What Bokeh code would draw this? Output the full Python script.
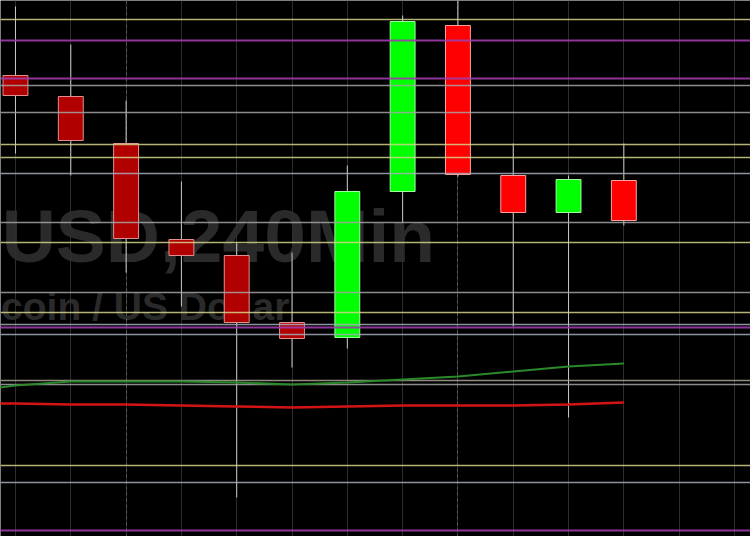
from bokeh.plotting import figure
from bokeh.models import Range1d
from bokeh.core.properties import value
from bokeh.embed import file_html
from bokeh.resources import INLINE

# ---- data (4h candles, price in USD) ----
idx = list(range(12))
opens = [10350, 10308, 10214, 10022, 9990, 9856, 9826, 10118, 10450, 10150, 10076, 10140]
closes = [10310, 10220, 10024, 9990, 9856, 9824, 10118, 10458, 10152, 10076, 10142, 10060]
highs = [10488, 10412, 10300, 10138, 10016, 9996, 10170, 10470, 10520, 10214, 10150, 10214]
lows = [10194, 10150, 9956, 9888, 9506, 9766, 9804, 10056, 10148, 9848, 9666, 10050]

ma_idx = list(range(-1, 12))
ma_green = [9716, 9730, 9738, 9738, 9738, 9736, 9732, 9736, 9742, 9748, 9758, 9768, 9774]
ma_red = [9694, 9694, 9692, 9692, 9690, 9688, 9686, 9688, 9690, 9690, 9690, 9692, 9696]

yellow_levels = [10462, 10212, 10186, 10016, 9876, 9570]
purple_levels = [10420, 10344, 9846, 9440]
grey_levels = [10330, 10276, 10056, 9916, 9732]
blue_levels = [10154, 9852, 9832, 9536]
beige_levels = [9740]

grid_x = list(range(0, 14))
session_x = [2, 8]

title_main = "USD,240Min"
title_sub = "coin / US Dollar"

# ---- figure ----
p = figure(width=750, height=536, output_backend="svg", toolbar_location=None,
           x_range=Range1d(-0.271, 13.29), y_range=Range1d(9428, 10500),
           background_fill_color="black", border_fill_color="black",
           min_border=0, outline_line_color=None)
p.axis.visible = False
p.grid.visible = False

# watermark
p.text(x=[-0.25], y=[10030], text=[title_main], text_align="left", text_baseline="middle",
       text_font=value("Liberation Sans"), text_font_style="bold", text_font_size="75px",
       text_color="#2a2a2a")
p.text(x=[-0.26], y=[9888], text=[title_sub], text_align="left", text_baseline="middle",
       text_font=value("Liberation Sans"), text_font_style="bold", text_font_size="39px",
       text_color="#2a2a2a")

# vertical grid
p.vspan(x=grid_x, line_color="#2e2e2e", line_width=1)
p.vspan(x=session_x, line_color="#5a5a5a", line_width=1, line_dash="3 3")

# wicks
p.segment(x0=idx, x1=idx, y0=lows, y1=highs, line_color="#c8c8c8", line_width=1)

# bodies
fills, outlines = [], []
for i, (o, c) in enumerate(zip(opens, closes)):
    if c >= o:
        fills.append("#00ff00"); outlines.append("#a0ffa0")
    elif i < 6:
        fills.append("#b00000"); outlines.append("#e09090")
    else:
        fills.append("#ff0000"); outlines.append("#ffa0a0")
tops = [max(o, c) for o, c in zip(opens, closes)]
bots = [min(o, c) for o, c in zip(opens, closes)]
p.vbar(x=idx, top=tops, bottom=bots, width=0.45, fill_color=fills, line_color=outlines, line_width=1)

# horizontal levels
p.hspan(y=yellow_levels, line_color="#d4d48c", line_width=1.5, line_alpha=0.85)
p.hspan(y=purple_levels, line_color="#a03cac", line_width=2, line_alpha=0.9)
p.hspan(y=grey_levels, line_color="#a4a4a4", line_width=1.5, line_alpha=0.85)
p.hspan(y=blue_levels, line_color="#a4acbc", line_width=1.5, line_alpha=0.85)
p.hspan(y=beige_levels, line_color="#a8a494", line_width=1.5, line_alpha=0.85)

# moving averages
p.line(ma_idx, ma_green, line_color="#2a8a2a", line_width=2)
p.line(ma_idx, ma_red, line_color="#d41414", line_width=2.5)

open("out.html", "w").write(file_html(p, INLINE))
